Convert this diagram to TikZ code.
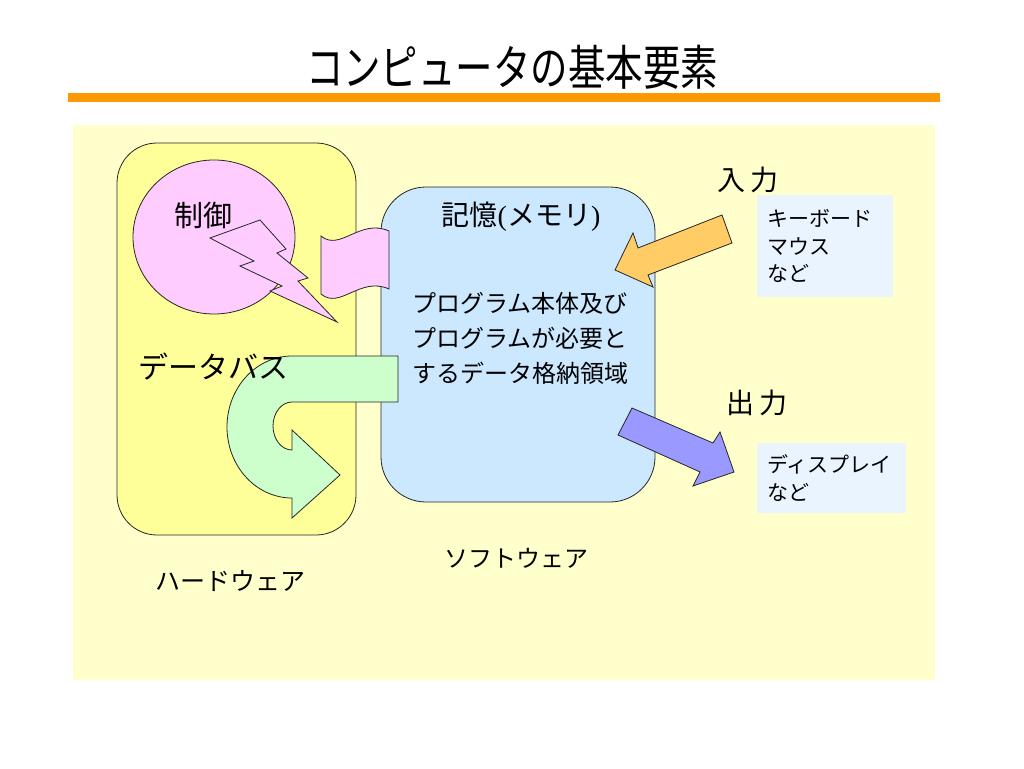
\documentclass[tikz,border=0pt]{standalone}
\usepackage{fontspec}
\setmainfont{Noto Sans CJK JP}
\newfontfamily\parenfont{Liberation Serif}
\definecolor{bgyellow}{RGB}{255,255,204}
\definecolor{hwyellow}{RGB}{255,255,153}
\definecolor{memblue}{RGB}{204,232,255}
\definecolor{ctrlpink}{RGB}{255,204,255}
\definecolor{busgreen}{RGB}{204,255,204}
\definecolor{inorange}{RGB}{255,204,102}
\definecolor{outpurple}{RGB}{153,153,255}
\definecolor{boxblue}{RGB}{234,244,255}
\definecolor{rulecolor}{RGB}{255,153,0}
\newcommand{\fs}[2]{\fontsize{#1}{#2}\selectfont}
\begin{document}
\begin{tikzpicture}[x=1pt, y=-1pt]
    \tikzset{outline/.style={draw=black!85, line width=0.8pt},
             lblbox/.style={fill=boxblue, align=left, inner xsep=10pt, font=\fs{21}{27.5}}}
    \useasboundingbox (0,0) rectangle (1024,768);
    \fill [bgyellow] (73,125) rectangle (935,680);
    \fill [rulecolor] (68,93) rectangle (940,102);
    \node (title) at (512,67) {\scalebox{0.78}[1]{\fs{48}{48}コンピュータの基本要素}};
    \draw [outline, fill=hwyellow, rounded corners=40pt] (117,143) rectangle (356,535);
    \draw [outline, fill=memblue, rounded corners=45pt] (381,187) rectangle (655,502);
    % control
    \draw [outline, fill=ctrlpink] (214,237) ellipse [x radius=81, y radius=77];
    \draw [outline, fill=ctrlpink] (210,238) -- (260,220) -- (286,249) -- (277,253) -- (308,278)
        -- (298,281) -- (337,322) -- (270,291) -- (282,286) -- (240,266) -- (254,261) -- cycle;
    % data bus
    \draw [outline, fill=busgreen] (292,356) -- (398,356) -- (398,402) -- (292,402)
        arc [start angle=270, end angle=90, x radius=19, y radius=24]
        -- (292,430) -- (340,475) -- (292,518) -- (292,498)
        arc [start angle=90, end angle=270, x radius=65, y radius=71] -- cycle;
    \draw [outline, fill=ctrlpink] (321,236) .. controls (340,252) and (360,218) .. (389,231)
        -- (389,289) .. controls (360,276) and (340,310) .. (321,294) -- cycle;
    % input / output
    \draw [outline, fill=inorange] (722,215) -- (638,248) -- (633,233) -- (615,270)
        -- (653,287) -- (648,275) -- (732,243) -- cycle;
    \draw [outline, fill=outpurple] (632,408) -- (713,443) -- (720,432) -- (734,472)
        -- (693,486) -- (700,472) -- (618,435) -- cycle;
    \node [font=\fs{29}{29}] (ctrl) at (203,215) {制御};
    \node [font=\fs{30}{30}] (bus) at (213,367) {データバス};
    \node [font=\fs{28}{28}] (mem) at (521,217) {記憶{\parenfont (}メモリ{\parenfont )}};
    \node [align=left, font=\fs{24}{35}] (memtext) at (520,338) {プログラム本体及び\\プログラムが必要と\\するデータ格納領域};
    \node [font=\fs{28}{28}] (in) at (748,180) {入\,力};
    \node [lblbox, text width=116, minimum height=102] (inbox) at (825,246) {キーボード\\マウス\\など};
    \node [font=\fs{28}{28}] (out) at (757,403) {出\,力};
    \node [lblbox, text width=129, minimum height=70] (outbox) at (831.5,478) {ディスプレイ\\など};
    \node [font=\fs{25}{25}] (hw) at (230,581) {ハードウェア};
    \node [font=\fs{24}{24}] (sw) at (516,558) {ソフトウェア};
\end{tikzpicture}
\end{document}
